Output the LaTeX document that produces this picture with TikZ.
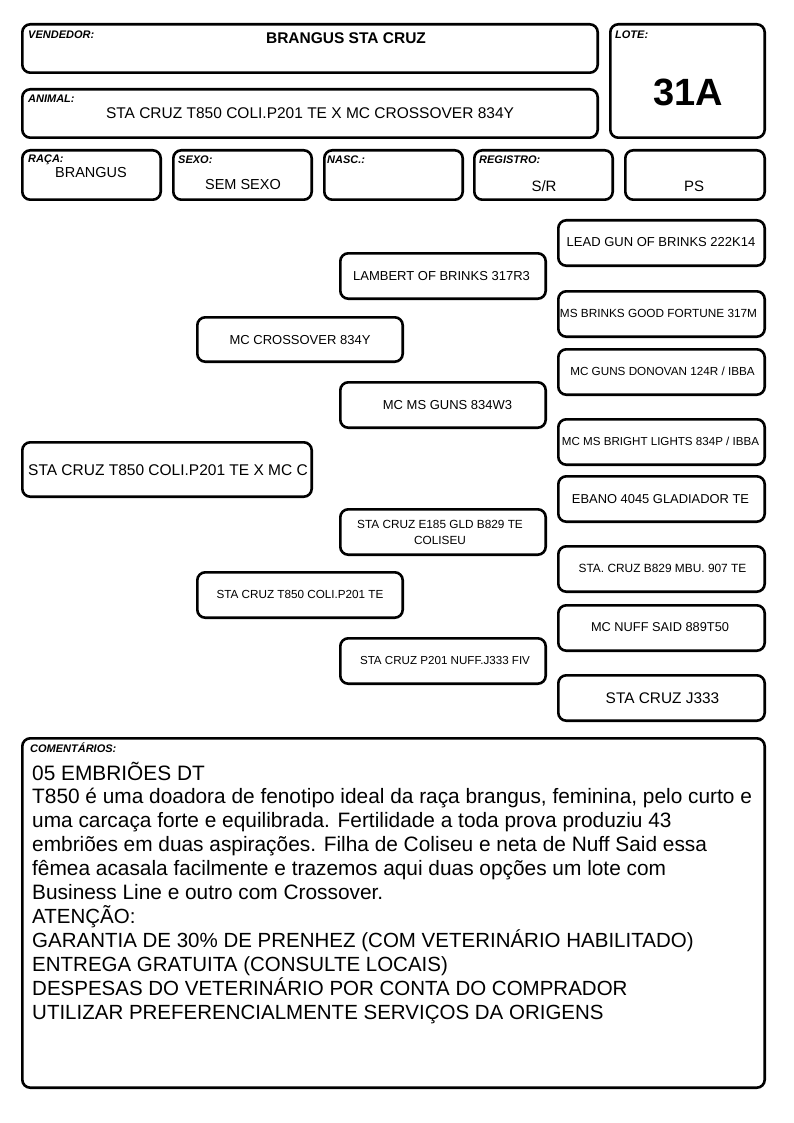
\documentclass[tikz,border=0pt]{standalone}
\usepackage{fontspec}
\setmainfont{Liberation Sans}
\usetikzlibrary{fit}
\tikzset{
  box/.style={draw=black, line width=2.6pt, rounded corners=8pt, inner sep=-1.3pt, fill=white},
  lbl/.style={font=\fontsize{11}{12}\selectfont\bfseries\itshape, anchor=base west, inner sep=0pt},
  val/.style={anchor=base, inner sep=0pt},
  cline/.style={font=\fontsize{20.85}{24}\selectfont, anchor=base west, inner sep=0pt},
  ucline/.style={font=\fontsize{20.5}{24}\selectfont, anchor=base west, inner sep=0pt}
}
\newcommand{\fs}[1]{\fontsize{#1}{#1}\selectfont}
\begin{document}
\begin{tikzpicture}[x=1pt, y=-1pt]
\useasboundingbox[fill=white] (0,0) rectangle (794,1123);
% header boxes
\node[box, fit={(21,23) (599,74)}] (vend) {};
\node[box, fit={(609,23) (766,139)}] (lote) {};
\node[box, fit={(21,88) (599,139)}] (anim) {};
\node[box, fit={(21,149) (162,201)}] (raca) {};
\node[box, fit={(172,149) (313,201)}] (sexo) {};
\node[box, fit={(323,149) (464,201)}] (nasc) {};
\node[box, fit={(473,149) (614,201)}] (regi) {};
\node[box, fit={(624,149) (766,201)}] (ps) {};
% labels
\node[lbl] (lvend) at (28,39) {VENDEDOR:};
\node[lbl] (llote) at (615,39) {LOTE:};
\node[lbl] (lanim) at (28,103) {ANIMAL:};
\node[lbl] (lraca) at (28,163) {RAÇA:};
\node[lbl] (lsexo) at (178,164) {SEXO:};
\node[lbl] (lnasc) at (327,164) {NASC.:};
\node[lbl] (lregi) at (479,164) {REGISTRO:};
% values
\node[val, font=\fs{15.5}\bfseries] (tvend) at (346,43.5) {BRANGUS STA CRUZ};
\node[val, font=\fs{38}\bfseries] (tlote) at (688,105.6) {31A};
\node[val, font=\fs{15.5}] (tanim) at (310,118.5) {STA CRUZ T850 COLI.P201 TE X MC CROSSOVER 834Y};
\node[val, font=\fs{14.5}] (traca) at (91,177.2) {BRANGUS};
\node[val, font=\fs{14.5}] (tsexo) at (243,189.2) {SEM SEXO};
\node[val, font=\fs{15}] (tregi) at (544,191.4) {S/R};
\node[val, font=\fs{15}] (tps) at (694,191.4) {PS};
% pedigree boxes
\node[box, fit={(21,441) (313,498)}] (p0) {};
\node[box, fit={(196,316) (404,363)}] (p1) {};
\node[box, fit={(196,571) (404,619)}] (p2) {};
\node[box, fit={(339,252) (547,300)}] (p11) {};
\node[box, fit={(339,381) (547,429)}] (p12) {};
\node[box, fit={(339,508) (547,556)}] (p21) {};
\node[box, fit={(339,637) (547,685)}] (p22) {};
\node[box, fit={(557,219) (766,267)}] (p111) {};
\node[box, fit={(557,290) (766,338)}] (p112) {};
\node[box, fit={(557,348) (766,396)}] (p121) {};
\node[box, fit={(557,418) (766,466)}] (p122) {};
\node[box, fit={(557,475) (766,523)}] (p211) {};
\node[box, fit={(557,545) (766,593)}] (p212) {};
\node[box, fit={(557,604) (766,652)}] (p221) {};
\node[box, fit={(557,674) (766,722)}] (p222) {};
% pedigree texts
\node[anchor=base west, inner sep=0pt, font=\fs{15.5}] (tp0) at (28,475.5) {STA CRUZ T850 COLI.P201 TE X MC C};
\node[val, font=\fs{13}] (tp1) at (300,344.6) {MC CROSSOVER 834Y};
\node[val, font=\fs{11.7}] (tp2) at (300,598.2) {STA CRUZ T850 COLI.P201 TE};
\node[val, font=\fs{13}] (tp11) at (441.5,280.6) {LAMBERT OF BRINKS 317R3};
\node[val, font=\fs{13}] (tp12) at (447.5,409.6) {MC MS GUNS 834W3};
\node[val, font=\fs{11.8}] (tp21a) at (440,528.2) {STA CRUZ E185 GLD B829 TE};
\node[val, font=\fs{11.8}] (tp21b) at (440,544.2) {COLISEU};
\node[val, font=\fs{11.6}] (tp22) at (445,664.2) {STA CRUZ P201 NUFF.J333 FIV};
\node[val, font=\fs{13}] (tp111) at (661,246.6) {LEAD GUN OF BRINKS 222K14};
\node[val, font=\fs{11.8}] (tp112) at (658.5,317.2) {MS BRINKS GOOD FORTUNE 317M};
\node[val, font=\fs{11.7}] (tp121) at (662.5,375.2) {MC GUNS DONOVAN 124R / IBBA};
\node[val, font=\fs{11.6}] (tp122) at (660.5,445.2) {MC MS BRIGHT LIGHTS 834P / IBBA};
\node[val, font=\fs{12.9}] (tp211) at (660.5,503.6) {EBANO 4045 GLADIADOR TE};
\node[val, font=\fs{11.9}] (tp212) at (662.5,572.2) {STA. CRUZ B829 MBU. 907 TE};
\node[val, font=\fs{12.8}] (tp221) at (660,631.6) {MC NUFF SAID 889T50};
\node[val, font=\fs{15.4}] (tp222) at (662.5,703.5) {STA CRUZ J333};
% comments
\node[box, fit={(21,737) (766,1089)}] (com) {};
\node[lbl] (lcom) at (30,752) {COMENTÁRIOS:};
\node[cline] (c1) at (32,780) {05 EMBRIÕES DT};
\node[cline] (c2) at (32,803.9) {T850 é uma doadora de fenotipo ideal da raça brangus, feminina, pelo curto e};
\node[cline] (c3) at (32,827.8) {uma carcaça forte e equilibrada. Fertilidade a toda prova produziu 43};
\node[cline] (c4) at (32,851.7) {embriões em duas aspirações. Filha de Coliseu e neta de Nuff Said essa};
\node[cline] (c5) at (32,875.6) {fêmea acasala facilmente e trazemos aqui duas opções um lote com};
\node[cline] (c6) at (32,899.5) {Business Line e outro com Crossover.};
\node[ucline] (c7) at (32,923.4) {ATENÇÃO:};
\node[ucline] (c8) at (32,947.3) {GARANTIA DE 30\% DE PRENHEZ (COM VETERINÁRIO HABILITADO)};
\node[ucline] (c9) at (32,971.2) {ENTREGA GRATUITA (CONSULTE LOCAIS)};
\node[ucline] (c10) at (32,995.1) {DESPESAS DO VETERINÁRIO POR CONTA DO COMPRADOR};
\node[ucline] (c11) at (32,1019) {UTILIZAR PREFERENCIALMENTE SERVIÇOS DA ORIGENS};
\end{tikzpicture}
\end{document}
